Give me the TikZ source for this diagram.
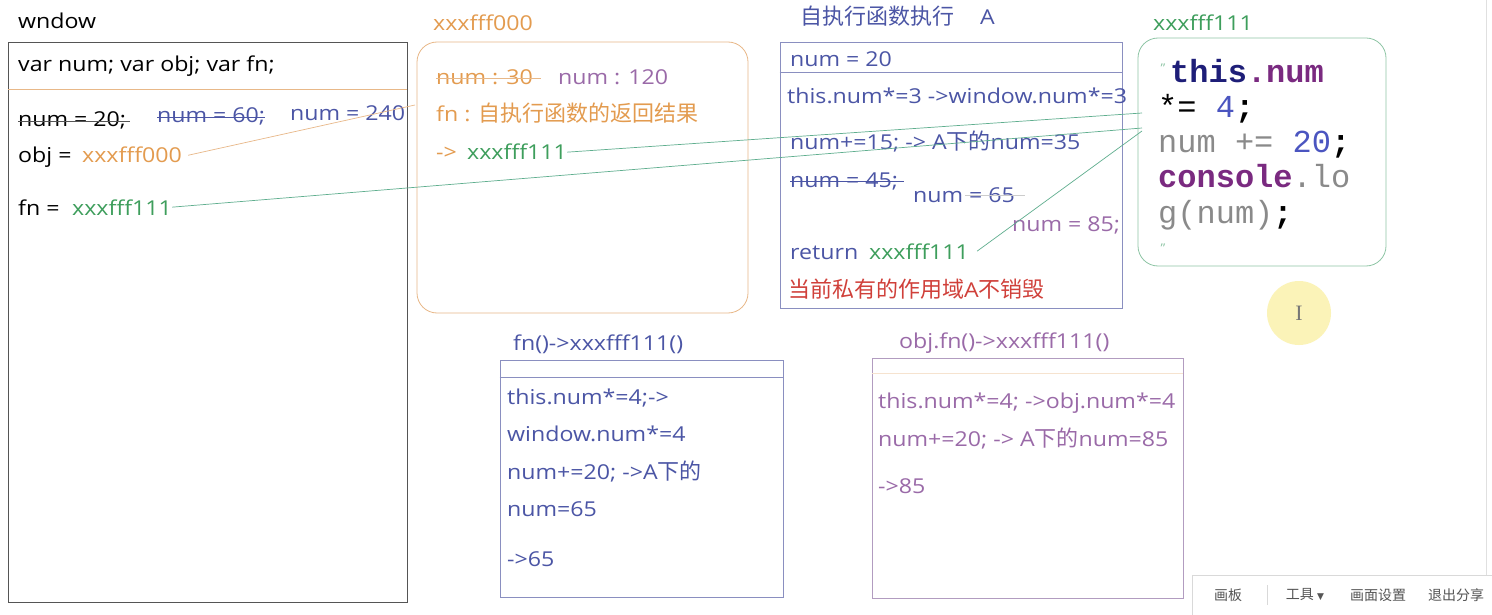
\documentclass[tikz,border=0pt]{standalone}
\usepackage{fontspec}
\setmainfont{Open Sans}[FakeStretch=1.13]
\newfontfamily\cjkfont{Noto Sans CJK SC}
\newfontfamily\codefont{Liberation Mono}
\newfontfamily\symfont{DejaVu Sans}
\newfontfamily\beamfont{Liberation Serif}
\newcommand\zh[1]{{\cjkfont\fontsize{22}{24}\selectfont #1}}
\usepackage{tikz}
\usetikzlibrary{positioning}
\definecolor{jsorange}{HTML}{E39B4F}
\definecolor{jsorangeline}{HTML}{E8B888}
\definecolor{jsgreen}{HTML}{3E9E5C}
\definecolor{jsgreenline}{HTML}{5FAE8E}
\definecolor{jsgreenbox}{HTML}{8EC5A5}
\definecolor{jsblue}{HTML}{4B55A5}
\definecolor{jsbluebox}{HTML}{8A8FC0}
\definecolor{jspurple}{HTML}{9A6AA8}
\definecolor{jspurplebox}{HTML}{B29CC0}
\definecolor{jsred}{HTML}{D0403A}
\definecolor{jsgrey}{HTML}{555555}
\definecolor{codenavy}{HTML}{1E1E78}
\definecolor{codepurple}{HTML}{7A2A80}
\definecolor{codeblue}{HTML}{4B55C0}
\definecolor{codegrey}{HTML}{8A8A8A}
\definecolor{cursoryellow}{HTML}{FBF3B8}
\tikzstyle{txt} = [anchor=base west, inner sep=0pt, font=\fontsize{20.5}{24}\selectfont]
\tikzstyle{code} = [anchor=base west, inner sep=0pt, font=\codefont\fontsize{32}{35}\selectfont]
\tikzstyle{scopebox} = [rectangle, draw, inner sep=0pt, line width=0.8pt]
\tikzstyle{heapbox} = [rectangle, rounded corners=20pt, draw, inner sep=0pt, line width=0.8pt]
\tikzstyle{link} = [line width=0.7pt]
\tikzstyle{tool} = [inner sep=0pt, text=jsgrey, font=\cjkfont\fontsize{14}{16}\selectfont]

\begin{document}
\begin{tikzpicture}[x=1pt, y=-1pt]
\useasboundingbox[fill=white] (0,0) rectangle (1492,615);
% window scope
\node[txt] (wtitle) at (18,29) {wndow};
\node[scopebox, draw=jsgrey, minimum width=399, minimum height=560] (win) at (207.5,322) {};
\draw[jsorangeline, line width=1pt] (win.west |- 0,90) -- (win.east |- 0,90);
\node[txt] (wvar) at (18,72) {var num; var obj; var fn;};
\node[txt] (wn20) at (18,127) {num = 20;};
\node[txt, text=jsblue] (wn60) at (157,123) {num = 60;};
\node[txt, text=jsblue] (wn240) at (290,121) {num = 240};
\draw[jsgrey] (wn20.west) -- ([xshift=4pt]wn20.east);
\draw[jsblue] (wn60.west) -- (wn60.east);
\node[txt] (wobj) at (18,163) {obj =};
\node[txt, text=jsorange] (wobjv) at (82,163) {xxxfff000};
\node[txt] (wfn) at (18,215) {fn =};
\node[txt, text=jsgreen] (wfnv) at (72,215) {xxxfff111};
% heap xxxfff000
\node[txt, text=jsorange] (h0title) at (433,31) {xxxfff000};
\node[heapbox, draw=jsorangeline, minimum width=331, minimum height=271] (heap0) at (582.5,177.5) {};
\node[txt, text=jsorange] (h0n30) at (436,85) {num : 30};
\node[txt, text=jspurple] (h0n120) at (558,85) {num : 120};
\draw[jsorangeline] (h0n30.west) -- ([xshift=8pt]h0n30.east);
\node[txt, text=jsorange] (h0fn) at (436,122) {fn : \zh{自执行函数的返回结果}};
\node[txt, text=jsorange] (h0arr) at (436,160) {->};
\node[txt, text=jsgreen] (h0fnv) at (467,160) {xxxfff111};
% private scope A
\node[txt, text=jsblue] (atitle) at (800,25) {\zh{自执行函数执行}\hspace{26pt}A};
\node[scopebox, draw=jsbluebox, minimum width=342, minimum height=266] (ascope) at (951,175) {};
\draw[jsbluebox, line width=0.8pt] (ascope.west |- 0,72) -- (ascope.east |- 0,72);
\node[txt, text=jsblue] (an20) at (790,67) {num = 20};
\node[txt, text=jsblue] (athis) at (787,104) {this.num*=3 ->window.num*=3};
\node[txt, text=jsblue] (an35) at (790,150) {num+=15; -> A\zh{下的}num=35};
\node[txt, text=jsblue] (an45) at (790,187) {num = 45;};
\draw[jsblue] (an45.west) -- ([xshift=6pt]an45.east);
\node[txt, text=jsblue] (an65) at (913,203) {num = 65};
\draw[black!20] ([xshift=52pt]an65.west) -- ([xshift=10pt]an65.east);
\node[txt, text=jspurple] (an85) at (1012,231) {num = 85;};
\node[txt, text=jsblue] (aret) at (790,259) {return};
\node[txt, text=jsgreen] (aretv) at (869,259) {xxxfff111};
\node[txt, text=jsred] (anote) at (788,297) {\zh{当前私有的作用域}A\zh{不销毁}};
% heap xxxfff111
\node[txt, text=jsgreen] (h1title) at (1153,31) {xxxfff111};
\node[heapbox, draw=jsgreenbox, minimum width=248, minimum height=228] (heap1) at (1262,152) {};
\node[inner sep=0pt, text=jsgreenbox, font=\fontsize{12}{12}\selectfont] (q1) at (1163,68) {"};
\node[code] (c1) at (1170,83) {\textbf{\textcolor{codenavy}{this}\textcolor{codepurple}{.num}}};
\node[code] (c2) at (1158,118) {*= \textcolor{codeblue}{4}\textbf{;}};
\node[code] (c3) at (1158,153) {\textcolor{codegrey}{num +=} \textcolor{codeblue}{20}\textbf{;}};
\node[code] (c4) at (1158,188) {\textbf{\textcolor{codepurple}{console}}\textcolor{codegrey}{.lo}};
\node[code] (c5) at (1158,223) {\textcolor{codegrey}{g(num)}\textbf{;}};
\node[inner sep=0pt, text=jsgreenbox, font=\fontsize{12}{12}\selectfont] (q2) at (1163,248) {"};
% calls
\node[txt, text=jsblue] (ftitle) at (513,350) {fn()->xxxfff111()};
\node[scopebox, draw=jsbluebox, minimum width=283, minimum height=237] (fcall) at (641.5,478.5) {};
\draw[jsbluebox, line width=0.8pt] (fcall.west |- 0,377) -- (fcall.east |- 0,377);
\node[txt, text=jsblue] (f1) at (507,404) {this.num*=4;->};
\node[txt, text=jsblue] (f2) at (507,441) {window.num*=4};
\node[txt, text=jsblue] (f3) at (507,479) {num+=20; ->A\zh{下的}};
\node[txt, text=jsblue] (f4) at (507,516) {num=65};
\node[txt, text=jsblue] (f5) at (507,566) {->65};
\node[txt, text=jspurple] (otitle) at (899,348) {obj.fn()->xxxfff111()};
\node[scopebox, draw=jspurplebox, minimum width=311, minimum height=240] (ocall) at (1027.5,478) {};
\draw[jsorangeline!40] (ocall.west |- 0,373) -- (ocall.east |- 0,373);
\node[txt, text=jspurple] (o1) at (878,408) {this.num*=4; ->obj.num*=4};
\node[txt, text=jspurple] (o2) at (878,446) {num+=20; -> A\zh{下的}num=85};
\node[txt, text=jspurple] (o3) at (878,493) {->85};
% references
\coordinate (h0in) at (415,105);
\coordinate (h1a) at (1142,113);
\coordinate (h1b) at (1142,128);
\coordinate (h1c) at (1142,131);
\draw[link, jsorangeline] (wobjv.east) ++(6pt,0) -- (h0in);
\draw[link, jsgreenline] (wfnv.east) -- (h1b);
\draw[link, jsgreenline] (h0fnv.east) -- (h1a);
\draw[link, jsgreenline] ([xshift=8pt]aretv.east) -- (h1c);
% cursor and toolbar
\node[circle, fill=cursoryellow, minimum size=64, inner sep=0pt] (cursor) at (1299,313) {};
\node[inner sep=0pt, text=jsgrey!80, font=\beamfont\fontsize{22}{22}\selectfont] at (cursor) {I};
\draw[black!12] (1486,0) -- (1486,575);
\node[rectangle, draw=black!15, fill=white, minimum width=302, minimum height=42, inner sep=0pt] (bar) at (1343,596) {};
\node[tool] (t1) at (1228,595) {画板};
\node[tool] (t2) at (1305,595) {工具 {\symfont\fontsize{9}{9}\selectfont ▼}};
\node[tool] (t3) at (1378,595) {画面设置};
\node[tool] (t4) at (1456,595) {退出分享};
\draw[black!15] (1267,585) -- (1267,605);
\end{tikzpicture}
\end{document}
